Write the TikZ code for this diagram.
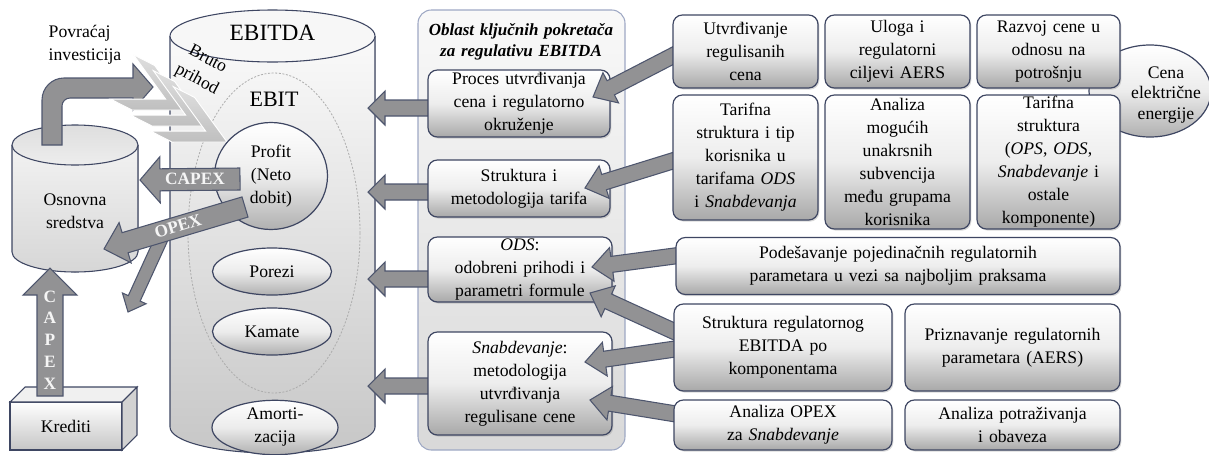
\documentclass[tikz,border=0pt]{standalone}
\usepackage{fontspec}
\setmainfont{Liberation Serif}[WordSpace=1.35]
\usetikzlibrary{calc, positioning, shapes.geometric, shadows}

\definecolor{edgeblue}{RGB}{62,70,98}
\definecolor{arrowgray}{RGB}{146,146,148}
\definecolor{arrowedge}{RGB}{78,86,110}
\definecolor{paneledge}{RGB}{158,168,196}

\newcommand{\pxu}{0.75pt}
\newcommand{\boxfont}{\fontsize{13.25}{17.25}\selectfont}

\tikzset{
  box/.style={rectangle, rounded corners=7pt, draw=edgeblue, line width=0.9pt,
    top color=white, bottom color=gray!68, middle color=gray!14, align=center,
    inner sep=0pt, font=\boxfont,
    drop shadow={opacity=0.3, shadow xshift=1pt, shadow yshift=-1.2pt}},
  oval/.style={ellipse, draw=edgeblue, line width=0.9pt, top color=white,
    bottom color=gray!62, middle color=gray!15, align=center, inner sep=0pt, font=\boxfont},
  blockarr/.style={draw=arrowedge, line width=0.8pt, fill=arrowgray},
  chevron/.style={draw=white, line width=0.7pt, top color=gray!25, bottom color=gray!50},
  dims/.style 2 args={minimum width=#1*\pxu, minimum height=#2*\pxu},
  arrtext/.style={font=\fontsize{13}{14}\selectfont\bfseries, text=gray!8},
  cyledge/.style={draw=edgeblue, line width=0.8pt}
}

% tail, tip, shaft half width, head half width, head length (px)
\newcommand{\blockarrow}[6][]{%
  \coordinate (bah) at ($(#3)!#6*\pxu!(#2)$);
  \draw[blockarr,#1] ($(#2)!#4*\pxu!90:(#3)$) -- ($(bah)!#4*\pxu!90:(#3)$)
    -- ($(bah)!#5*\pxu!90:(#3)$) -- (#3) -- ($(bah)!#5*\pxu!-90:(#3)$)
    -- ($(bah)!#4*\pxu!-90:(#3)$) -- ($(#2)!#4*\pxu!-90:(#3)$) -- cycle;
}

\begin{document}
\begin{tikzpicture}[x=0.75pt, y=-0.75pt]
  \useasboundingbox (0,0) rectangle (1209,454);

  % osnovna sredstva
  \fill[top color=gray!10, bottom color=gray!32] (12,145) -- (12,252)
    arc[start angle=180, end angle=360, x radius=63*\pxu, y radius=20*\pxu] -- (138,145) -- cycle;
  \draw[cyledge] (12,145) -- (12,252)
    arc[start angle=180, end angle=360, x radius=63*\pxu, y radius=20*\pxu] -- (138,145);
  \draw[cyledge, top color=gray!26, bottom color=gray!14] (75,145) ellipse [x radius=63*\pxu, y radius=20*\pxu];
  \node[font=\boxfont, align=center] (osnovna) at (75,211) {Osnovna\\sredstva};

  \node[font=\boxfont, align=left, anchor=west] (povracaj) at (44,45) {Povraćaj\\investicija};
  \draw[blockarr] (42,145) -- (42,100) arc[start angle=180, end angle=90, radius=22*\pxu]
    -- (133,78) -- (133,64) -- (153,87) -- (133,110) -- (133,98) -- (70,98)
    arc[start angle=90, end angle=180, radius=8*\pxu] -- (62,145) -- cycle;

  % EBITDA
  \fill[top color=gray!4, bottom color=gray!44] (170,36) -- (170,427)
    arc[start angle=180, end angle=360, x radius=102.5*\pxu, y radius=26*\pxu] -- (375,36) -- cycle;
  \draw[cyledge] (170,36) -- (170,427)
    arc[start angle=180, end angle=360, x radius=102.5*\pxu, y radius=26*\pxu] -- (375,36);
  \draw[cyledge, fill=gray!6] (272.5,36) ellipse [x radius=102.5*\pxu, y radius=26*\pxu];
  \node[font=\fontsize{17.5}{20}\selectfont] (ebitda) at (272.5,33) {EBITDA};
  \draw[gray!65, line width=0.6pt, dash pattern=on 1.5pt off 1.2pt] (274,233) ellipse [x radius=86*\pxu, y radius=160*\pxu];
  \node[font=\fontsize{16.5}{19}\selectfont] (ebit) at (274,99) {EBIT};

  \foreach \cx/\cy in {187/110, 207/126, 227/142}
    \draw[chevron, shift={(\cx,\cy)}, rotate=-27] (-49,-25) -- (0,0) -- (-49,25) -- (-73,25) -- (-24,0) -- (-73,-25) -- cycle;
  \node[font=\boxfont, rotate=-28, align=center] (brutoprihod) at (202,70) {Bruto\\prihod};

  \node[oval, dims={113}{107}] (profit) at (271,176) {Profit\\(Neto\\dobit)};
  \node[oval, dims={119}{47}] (porezi) at (272,271.5) {Porezi};
  \node[oval, dims={119}{47}] (kamate) at (272,331.5) {Kamate};
  \node[oval, dims={126}{51}] (amort) at (275,427.5) {Amorti-\\zacija};

  \coordinate (capexh-s) at (240,179);
  \coordinate (capexh-e) at (140,180);
  \blockarrow{capexh-s}{capexh-e}{11}{23}{20}
  \node[arrtext] (capexh) at (195,179) {CAPEX};

  \coordinate (opexb-s) at (165,231);
  \coordinate (opexb-e) at (128,312);
  \blockarrow{opexb-s}{opexb-e}{6.5}{13}{15}
  \coordinate (opex-s) at (245,207);
  \coordinate (opex-e) at (104,249);
  \blockarrow{opex-s}{opex-e}{10.5}{21}{22}
  \node[arrtext, rotate=17] (opex) at (178,226) {OPEX};

  % krediti
  \node[draw=edgeblue, line width=0.8pt, top color=white, bottom color=gray!45, outer sep=0pt,
    font=\boxfont, dims={112}{48}] (krediti) at (66,426) {Krediti};
  \draw[cyledge, fill=gray!12] (krediti.north west) -- ++(15,-15) -- ++(112,0) -- (krediti.north east) -- cycle;
  \draw[cyledge, fill=gray!35] (krediti.north east) -- ++(15,-15) -- ++(0,48) -- (krediti.south east) -- cycle;
  \coordinate (capexv-s) at (50,396);
  \coordinate (capexv-e) at (50,268);
  \blockarrow{capexv-s}{capexv-e}{13}{27}{27}
  \foreach \ltr/\ly in {C/297, A/318, P/340, E/362, X/384}
    \node[arrtext] at (50,\ly) {\ltr};

  % oblast
  \node[rectangle, rounded corners=10pt, draw=paneledge, line width=0.8pt, top color=gray!5,
    bottom color=gray!30, dims={207}{440}] (oblast) at (521.5,230) {};
  \node[font=\fontsize{12.75}{15.75}\selectfont\bfseries\itshape, align=center] (naslov) at (521,42)
    {Oblast ključnih pokretača\\za regulativu EBITDA};

  \foreach \n/\ay in {1/108, 2/192, 3/279, 4/386} {
    \coordinate (ea\n-s) at (442,\ay);
    \coordinate (ea\n-e) at (368,\ay);
    \blockarrow{ea\n-s}{ea\n-e}{8}{17}{17}
  }

  \node[box, dims={182}{67}] (proces) at (519,103.5) {Proces utvrđivanja\\cena i regulatorno\\okruženje};
  \node[box, dims={182}{57}] (struktura) at (519,188.5) {Struktura i\\metodologija tarifa};
  \node[box, dims={184}{65}] (ods) at (520,269.5) {\textit{ODS}:\\odobreni prihodi i\\parametri formule};
  \node[box, dims={184}{103}] (snab) at (520,383.5) {\textit{Snabdevanje}:\\metodologija\\utvrđivanja\\regulisane cene};

  \foreach \n/\sx/\sy/\ex/\ey in {1/682/51/593/97, 2/682/158/585/188, 3/682/255/592/267,
      4/682/335/590/293, 5/682/348/585/362, 6/682/415/590/400} {
    \coordinate (ra\n-s) at (\sx,\sy);
    \coordinate (ra\n-e) at (\ex,\ey);
    \blockarrow{ra\n-s}{ra\n-e}{8}{17}{20}
  }

  \node[oval, dims={122}{92}] (cena) at (1150,91) {};
  \node[font=\fontsize{13.25}{15.5}\selectfont, align=center] (cenatxt) at (1166,95) {Cena\\električne\\energije};

  \node[box, dims={145}{73}] (utvrd) at (745.5,51.5) {Utvrđivanje\\regulisanih\\cena};
  \node[box, dims={145}{73}] (uloga) at (897.5,51.5) {Uloga i\\regulatorni\\ciljevi AERS};
  \node[box, dims={143}{73}] (razvoj) at (1048.5,51.5) {Razvoj cene u\\odnosu na\\potrošnju};
  \node[box, dims={145}{125}] (tarifna) at (745.5,157.5)
    {Tarifna\\struktura i tip\\korisnika u\\tarifama \textit{ODS}\\i \textit{Snabdevanja}};
  \node[box, dims={145}{134}] (analiza) at (897.5,162)
    {Analiza\\mogućih\\unakrsnih\\subvencija\\među grupama\\korisnika};
  \node[box, dims={143}{134}] (tarstr) at (1048.5,162)
    {Tarifna\\struktura\\(\textit{OPS}, \textit{ODS},\\\textit{Snabdevanje} i\\ostale\\komponente)};
  \node[box, dims={444}{57}] (podes) at (898,266)
    {Podešavanje pojedinačnih regulatornih\\parametara u vezi sa najboljim praksama};
  \node[box, dims={218}{87}] (strreg) at (783,347.5) {Struktura regulatornog\\EBITDA po\\komponentama};
  \node[box, dims={215}{87}] (prizn) at (1012.5,347.5) {Priznavanje regulatornih\\parametara (AERS)};
  \node[box, dims={218}{50}] (opexan) at (783,425) {Analiza OPEX\\za \textit{Snabdevanje}};
  \node[box, dims={215}{50}] (potraz) at (1012.5,425) {Analiza potraživanja\\i obaveza};
\end{tikzpicture}
\end{document}
